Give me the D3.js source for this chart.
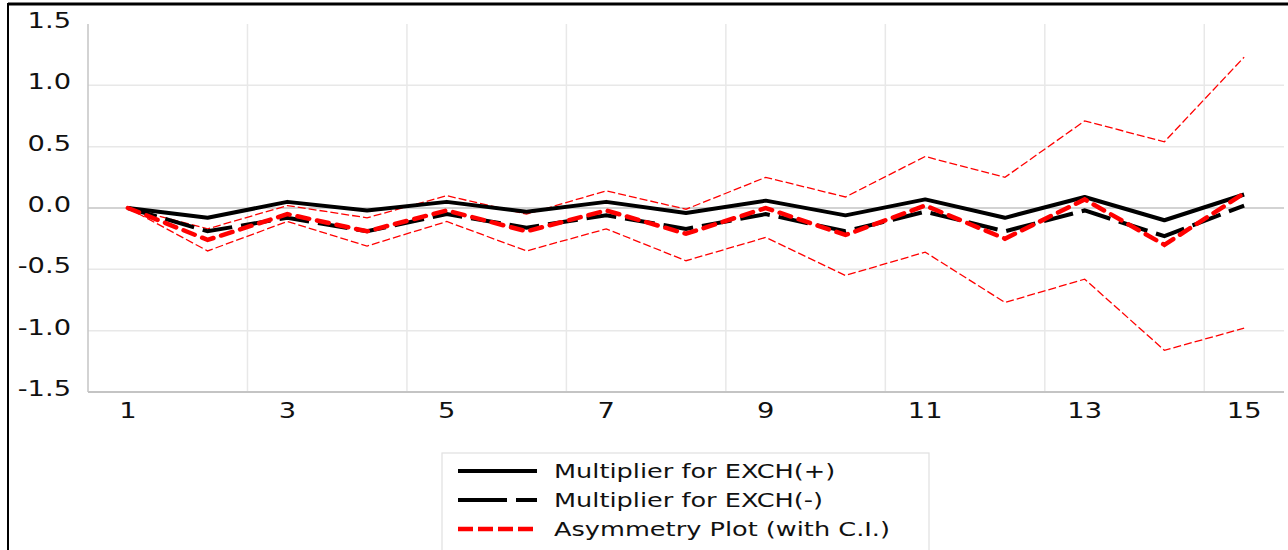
<!DOCTYPE html>
<html lang="en">
<head>
	<meta charset="UTF-8">
	<script type="text/javascript" src="https://cdn.jsdelivr.net/npm/d3@7"></script>
	<title>asymmetry plot</title>
	<style>
		body { margin: 0; background: #fff; }
		text { font-family: "DejaVu Sans", sans-serif; fill: #111; }
	</style>
</head>
<body>

<svg id="chart" width="1288" height="550"></svg>

<script type="text/javascript">
	// horizon (periods) on the x axis
	var periods = [1, 2, 3, 4, 5, 6, 7, 8, 9, 10, 11, 12, 13, 14, 15]
	var xLabels = [1, 3, 5, 7, 9, 11, 13, 15]
	var yTicks = [-1.5, -1.0, -0.5, 0.0, 0.5, 1.0, 1.5]

	// series
	var multPos = [0, -0.08, 0.05, -0.02, 0.05, -0.03, 0.05, -0.04, 0.06, -0.06, 0.07, -0.08, 0.09, -0.10, 0.11]
	var multNeg = [0, -0.19, -0.08, -0.19, -0.05, -0.16, -0.06, -0.17, -0.05, -0.19, -0.03, -0.19, -0.02, -0.23, 0.02]
	var asym    = [0, -0.26, -0.05, -0.19, -0.02, -0.19, -0.02, -0.21, 0.00, -0.22, 0.02, -0.25, 0.07, -0.30, 0.12]
	var ciUpper = [0, -0.17, 0.02, -0.08, 0.10, -0.05, 0.14, -0.01, 0.25, 0.09, 0.42, 0.25, 0.71, 0.54, 1.23]
	var ciLower = [0, -0.35, -0.11, -0.31, -0.11, -0.35, -0.17, -0.43, -0.24, -0.55, -0.36, -0.77, -0.58, -1.16, -0.98]

	var legendNames = ["Multiplier for EXCH(+)", "Multiplier for EXCH(-)", "Asymmetry Plot (with C.I.)"]

	var svg = d3.select("#chart")

	// plot area
	var plotLeft = 88, plotRight = 1284, plotTop = 24, plotBottom = 392

	var x = d3.scaleBand()
		.domain(periods)
		.range([plotLeft, plotRight])
	var y = d3.scaleLinear()
		.domain([-1.5, 1.5])
		.range([plotBottom, plotTop])

	var cx = function(d) { return x(d) + x.bandwidth() / 2; }

	// outer frame (cropped: only top and left show)
	svg.append("line")
		.attr("x1", 8).attr("x2", 1288).attr("y1", 4).attr("y2", 4)
		.attr("stroke", "#000").attr("stroke-width", 3)
	svg.append("line")
		.attr("x1", 8).attr("x2", 8).attr("y1", 3).attr("y2", 550)
		.attr("stroke", "#000").attr("stroke-width", 2)

	// horizontal gridlines
	svg.append("g")
		.selectAll("line")
		.data(yTicks.filter(function(d) { return d !== 0 && d !== -1.5 && d !== 1.5; }))
		.enter().append("line")
		.attr("x1", plotLeft).attr("x2", plotRight)
		.attr("y1", function(d) { return y(d); })
		.attr("y2", function(d) { return y(d); })
		.attr("stroke", "#e8e8e8").attr("stroke-width", 1.5)

	// vertical gridlines every second period boundary
	svg.append("g")
		.selectAll("line")
		.data(periods.filter(function(d) { return d % 2 === 0; }))
		.enter().append("line")
		.attr("x1", function(d) { return cx(d) + x.step() / 2; })
		.attr("x2", function(d) { return cx(d) + x.step() / 2; })
		.attr("y1", plotTop).attr("y2", plotBottom)
		.attr("stroke", "#e8e8e8").attr("stroke-width", 1.5)

	// zero line and axes
	svg.append("line")
		.attr("x1", plotLeft).attr("x2", plotRight).attr("y1", y(0)).attr("y2", y(0))
		.attr("stroke", "#c4c4c4").attr("stroke-width", 1.5)
	svg.append("line")
		.attr("x1", plotLeft).attr("x2", plotLeft).attr("y1", plotTop).attr("y2", plotBottom)
		.attr("stroke", "#c4c4c4").attr("stroke-width", 1.5)
	svg.append("line")
		.attr("x1", plotLeft).attr("x2", plotRight).attr("y1", plotBottom).attr("y2", plotBottom)
		.attr("stroke", "#c4c4c4").attr("stroke-width", 2)

	// y labels
	svg.append("g")
		.selectAll("text")
		.data(yTicks)
		.enter().append("text")
		.attr("text-anchor", "end")
		.attr("transform", function(d) { return "translate(71," + (y(d) + 4) + ") scale(1.3,1)"; })
		.style("font-size", "21px")
		.text(function(d) { return d.toFixed(1); })

	// x labels
	svg.append("g")
		.selectAll("text")
		.data(xLabels)
		.enter().append("text")
		.attr("text-anchor", "middle")
		.attr("transform", function(d) { return "translate(" + cx(d) + ",418) scale(1.3,1)"; })
		.style("font-size", "21px")
		.text(function(d) { return d; })

	var line = d3.line()
		.x(function(d, i) { return cx(periods[i]); })
		.y(function(d) { return y(d); })

	// confidence band
	;[ciUpper, ciLower].forEach(function(s) {
		svg.append("path")
			.attr("d", line(s))
			.attr("fill", "none")
			.attr("stroke", "#ff0000")
			.attr("stroke-width", 1.3)
			.attr("stroke-dasharray", "8,3")
	})

	// multipliers
	svg.append("path")
		.attr("d", line(multPos))
		.attr("fill", "none")
		.attr("stroke", "#000")
		.attr("stroke-width", 4)
		.attr("stroke-linejoin", "round")

	svg.append("path")
		.attr("d", line(multNeg))
		.attr("fill", "none")
		.attr("stroke", "#000")
		.attr("stroke-width", 4)
		.attr("stroke-dasharray", "30,9")

	svg.append("path")
		.attr("d", line(asym))
		.attr("fill", "none")
		.attr("stroke", "#ff0000")
		.attr("stroke-width", 4.5)
		.attr("stroke-linecap", "round")
		.attr("stroke-dasharray", "12,8")

	// legend
	var legend = svg.append("g")
	legend.append("rect")
		.attr("x", 442).attr("y", 453).attr("width", 487).attr("height", 110)
		.attr("fill", "#fff").attr("stroke", "#e0e0e0").attr("stroke-width", 1.2)

	var legendStyles = [
		{ stroke: "#000", dash: null, w: 4 },
		{ stroke: "#000", dash: "49,9", w: 4 },
		{ stroke: "#ff0000", dash: "15,5", w: 4.5 }
	]

	legendNames.forEach(function(name, i) {
		var ly = 471 + i * 29
		var st = legendStyles[i]
		legend.append("line")
			.attr("x1", 458).attr("x2", 537).attr("y1", ly).attr("y2", ly)
			.attr("stroke", st.stroke)
			.attr("stroke-width", st.w)
			.attr("stroke-dasharray", st.dash)
		legend.append("text")
			.attr("transform", "translate(554," + (ly + 7) + ") scale(1.28,1)")
			.style("font-size", "20px")
			.text(name)
	})

</script>

</body>
</html>
